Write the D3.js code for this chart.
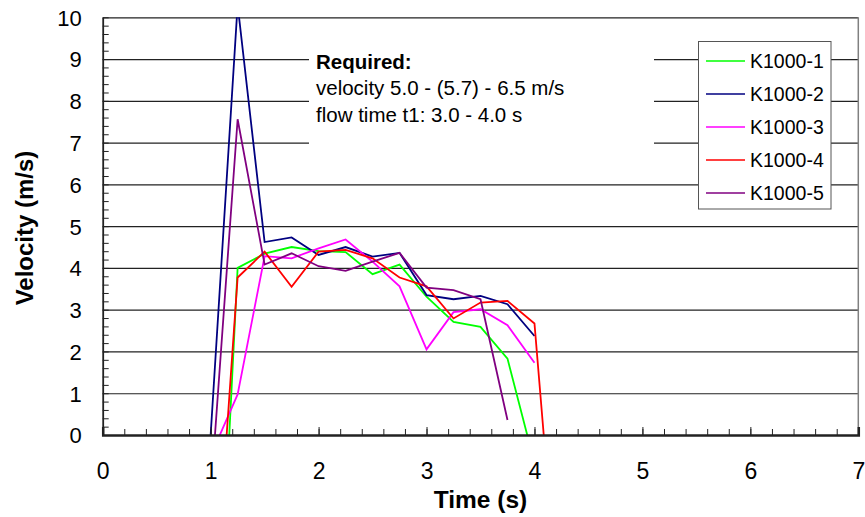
<!DOCTYPE html>
<html>
<head>
<meta charset="utf-8">
<script src="https://cdn.jsdelivr.net/npm/d3@7"></script>
<style>
    body { margin: 0; background: #fff; }
    svg text { font-family: "Liberation Sans", Arial, sans-serif; fill: #000; }
</style>
</head>
<body>
<svg id="chart" width="865" height="517"></svg>
<script>
// velocity readings, 0.25 s apart
const times = [1.0, 1.25, 1.5, 1.75, 2.0, 2.25, 2.5, 2.75, 3.0, 3.25, 3.5, 3.75, 4.0, 4.25]

const k1000_1 = [-8.9, 4.00, 4.34, 4.50, 4.40, 4.38, 3.85, 4.08, 3.31, 2.71, 2.59, 1.83, -0.67, null]
const k1000_2 = [0, 10.3, 4.62, 4.73, 4.31, 4.50, 4.27, 4.36, 3.35, 3.25, 3.33, 3.13, 2.37, null]
const k1000_3 = [-0.5, 0.97, 4.28, 4.23, 4.47, 4.68, 4.15, 3.56, 2.05, 2.94, 3.01, 2.63, 1.73, null]
const k1000_4 = [-5.5, 3.77, 4.39, 3.55, 4.39, 4.43, 4.23, 3.77, 3.56, 2.79, 3.17, 3.21, 2.67, -5.1]
const k1000_5 = [-1.44, 7.56, 4.08, 4.35, 4.04, 3.93, 4.15, 4.36, 3.53, 3.47, 3.25, 0.36, null, null]

const seriesNames  = ['K1000-1', 'K1000-2', 'K1000-3', 'K1000-4', 'K1000-5']
const seriesValues = [k1000_1, k1000_2, k1000_3, k1000_4, k1000_5]
const seriesColors = ['#00ff00', '#000080', '#ff00ff', '#ff0000', '#800080']

const xTicks = [0, 1, 2, 3, 4, 5, 6, 7]
const yTicks = [0, 1, 2, 3, 4, 5, 6, 7, 8, 9, 10]

const noteLines = ['Required:', 'velocity 5.0 - (5.7) - 6.5 m/s', 'flow time t1: 3.0 - 4.0 s']

class VelocityChart {

    constructor(){
        this.svg = d3.select('#chart')
        this.left = 102.7
        this.right = 858.3
        this.top = 17.3
        this.bottom = 435
        this.x = d3.scaleLinear().domain([0, 7]).range([this.left, this.right])
        this.y = d3.scaleLinear().domain([0, 10]).range([this.bottom, this.top])
    }

    draw(){
        this.draw_Grid()
        this.draw_Lines()
        this.draw_Note()
        this.draw_Legend()
        this.draw_Axes()
    }

    draw_Grid(){
        const w = this.right - this.left
        const grid = this.svg.append('g')
            .attr('transform', `translate(${this.left},0)`)
            .call(d3.axisLeft(this.y).tickValues(yTicks).tickSize(-w).tickFormat(''))
        grid.select('.domain').remove()
        grid.selectAll('line').attr('stroke', '#3a3a3a').attr('stroke-width', 1.2)

        // plot frame on the right
        this.svg.append('line')
            .attr('x1', this.right).attr('x2', this.right)
            .attr('y1', this.top).attr('y2', this.bottom)
            .attr('stroke', '#808080').attr('stroke-width', 1.5)
    }

    draw_Lines(){
        this.svg.append('clipPath').attr('id', 'plotClip')
            .append('rect')
            .attr('x', this.left).attr('y', this.top)
            .attr('width', this.right - this.left)
            .attr('height', this.bottom - this.top)

        const line = d3.line()
            .defined(d => d.v !== null)
            .x(d => this.x(d.t))
            .y(d => this.y(d.v))

        const lines = this.svg.append('g').attr('clip-path', 'url(#plotClip)')

        seriesValues.forEach((values, i) => {
            const pts = times.map((t, j) => ({t: t, v: values[j]}))
            lines.append('path')
                .datum(pts)
                .attr('d', line)
                .attr('fill', 'none')
                .attr('stroke', seriesColors[i])
                .attr('stroke-width', 1.8)
                .attr('stroke-linejoin', 'miter')
        })
    }

    draw_Note(){
        const g = this.svg.append('g')
        g.append('rect')
            .attr('x', 309).attr('y', 36)
            .attr('width', 345).attr('height', 114)
            .attr('fill', '#fff')

        g.selectAll('text')
            .data(noteLines)
            .join('text')
            .attr('x', 316)
            .attr('y', (d, i) => 69 + i * 26.3)
            .attr('font-size', 20.5)
            .attr('font-weight', (d, i) => i === 0 ? 'bold' : 'normal')
            .text(d => d)
    }

    draw_Legend(){
        const g = this.svg.append('g')
        g.append('rect')
            .attr('x', 698.5).attr('y', 41.5)
            .attr('width', 132.5).attr('height', 167.5)
            .attr('fill', '#fff')
            .attr('stroke', '#555').attr('stroke-width', 1)

        const rows = g.selectAll('g.row')
            .data(seriesNames)
            .join('g')
            .attr('class', 'row')
            .attr('transform', (d, i) => `translate(0,${61 + i * 33})`)

        rows.append('line')
            .attr('x1', 706).attr('x2', 745)
            .attr('stroke', (d, i) => seriesColors[i])
            .attr('stroke-width', 1.5)

        rows.append('text')
            .attr('x', 750)
            .attr('dy', '0.36em')
            .attr('font-size', 19.5)
            .text(d => d)
    }

    draw_Axes(){
        // minor ticks, drawn inward
        const xMinor = this.svg.append('g')
            .attr('transform', `translate(0,${this.bottom})`)
            .call(d3.axisBottom(this.x).tickValues(d3.range(0, 36).map(i => i * 0.2)).tickSize(-6).tickFormat(''))
        xMinor.select('.domain').remove()

        const xMajor = this.svg.append('g')
            .attr('transform', `translate(0,${this.bottom})`)
            .call(d3.axisBottom(this.x).tickValues(xTicks).tickSize(-8).tickPadding(0).tickFormat(d3.format('d')))
        xMajor.select('.domain').attr('stroke', '#222').attr('stroke-width', 2.5)
        xMajor.selectAll('text').attr('font-size', 23).attr('dy', 0).attr('y', 44)

        const yMinor = this.svg.append('g')
            .attr('transform', `translate(${this.left},0)`)
            .call(d3.axisLeft(this.y).tickValues(d3.range(0, 51).map(i => i * 0.2)).tickSize(-6).tickFormat(''))
        yMinor.select('.domain').remove()

        const yMajor = this.svg.append('g')
            .attr('transform', `translate(${this.left},0)`)
            .call(d3.axisLeft(this.y).tickValues(yTicks).tickSize(0).tickPadding(21).tickFormat(d3.format('d')))
        yMajor.select('.domain').attr('stroke', '#222').attr('stroke-width', 1.8)
        yMajor.selectAll('text').attr('font-size', 22).attr('dy', '0.36em')

        this.svg.selectAll('.tick line').attr('stroke', '#222')

        this.svg.append('text')
            .attr('x', (this.left + this.right) / 2)
            .attr('y', 508)
            .attr('text-anchor', 'middle')
            .attr('font-size', 24.5)
            .attr('font-weight', 'bold')
            .text('Time (s)')

        this.svg.append('text')
            .attr('transform', 'translate(33,228) rotate(-90)')
            .attr('text-anchor', 'middle')
            .attr('font-size', 24)
            .attr('font-weight', 'bold')
            .text('Velocity (m/s)')
    }
}

const chart = new VelocityChart()
chart.draw()
</script>
</body>
</html>
